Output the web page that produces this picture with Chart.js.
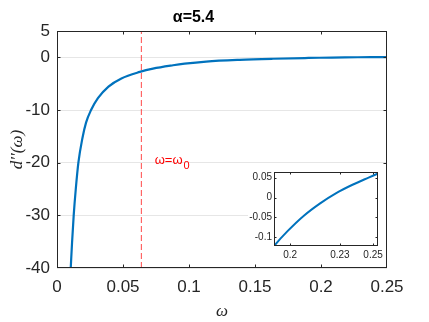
<!DOCTYPE html>
<html><head><meta charset="utf-8">
<script src="https://cdn.jsdelivr.net/npm/chart.js@4/dist/chart.umd.min.js"></script>
<style>
html,body{margin:0;padding:0;background:#fff;}
#wrap{position:relative;width:429px;height:322px;overflow:hidden;}
#main{position:absolute;left:0;top:0;}
#inset{position:absolute;left:248px;top:164px;background:#fff;}
</style></head><body>
<div id="wrap"><canvas id="main" width="429" height="322"></canvas><canvas id="inset" width="138" height="100"></canvas></div>
<script>
// ---- data ----
const omega = [0.0104, 0.0114, 0.01265, 0.0142, 0.0162, 0.0192, 0.0220, 0.0258, 0.0310, 0.0390, 0.0488, 0.0627, 0.0727, 0.0879, 0.0967, 0.113, 0.1384, 0.1636, 0.1905, 0.1986, 0.2083, 0.2181, 0.2278, 0.2376, 0.2473, 0.2527];
const dpp   = [-40, -35.2, -30, -25.1, -20, -15.4, -12.4, -10.0, -7.75, -5.55, -4.0, -2.77, -2.14, -1.5, -1.2, -0.8, -0.47, -0.27, -0.1207, -0.0837, -0.0455, -0.0145, 0.0112, 0.032, 0.050, 0.0597];
const omega0 = 0.0639;
const xTicks = [0, 0.05, 0.1, 0.15, 0.2, 0.25];
const xTickLabels = ['0', '0.05', '0.1', '0.15', '0.2', '0.25'];
const yTicks = [-40, -30, -20, -10, 0, 5];
const yTickLabels = ['-40', '-30', '-20', '-10', '0', '5'];
const insetXTicks = [0.2, 0.23, 0.25];
const insetXTickLabels = ['0.2', '0.23', '0.25'];
const insetYTicks = [-0.1, -0.05, 0, 0.05];
const insetYTickLabels = ['-0.1', '-0.05', '0', '0.05'];
const insetXRange = [0.1903, 0.2532];
const insetYRange = [-0.1215, 0.0640];
const titleText = 'α=5.4';
const xTitle = 'ω';
const yTitle = 'd′′(ω)';
const annotMain = 'ω=ω';
const annotSub = '0';
const annotPos = [0.074, -20.2];

const curve = omega.map((w, i) => ({x: w, y: dpp[i]}));
const axisColor = '#262626';
const blue = '#0072BD';
const sans = '"Liberation Sans", Arial, sans-serif';
const serif = '"Liberation Serif", "DejaVu Serif", serif';

function boxTicksPlugin(len) {
  return {
    id: 'boxTicks',
    afterDatasetsDraw(chart) {
      const {ctx, chartArea: a, scales: {x, y}} = chart;
      ctx.save();
      ctx.strokeStyle = axisColor;
      ctx.lineWidth = 1;
      const L = Math.round(a.left) + 0.5, R = Math.round(a.right) - 0.5;
      const T = Math.round(a.top) + 0.5, B = Math.round(a.bottom) - 0.5;
      ctx.beginPath();
      x.ticks.forEach(t => {
        const px = Math.round(x.getPixelForValue(t.value)) + 0.5;
        if (px > L + 1 && px < R - 1) {
          ctx.moveTo(px, B); ctx.lineTo(px, B - len);
          ctx.moveTo(px, T); ctx.lineTo(px, T + len);
        }
      });
      y.ticks.forEach(t => {
        const py = Math.round(y.getPixelForValue(t.value)) + 0.5;
        if (py > T + 1 && py < B - 1) {
          ctx.moveTo(L, py); ctx.lineTo(L + len, py);
          ctx.moveTo(R, py); ctx.lineTo(R - len, py);
        }
      });
      ctx.stroke();
      ctx.strokeRect(L, T, R - L, B - T);
      ctx.restore();
    }
  };
}

const annotPlugin = {
  id: 'annot',
  afterDatasetsDraw(chart) {
    const {ctx, scales: {x, y}} = chart;
    const px = x.getPixelForValue(annotPos[0]);
    const py = y.getPixelForValue(annotPos[1]);
    ctx.save();
    ctx.fillStyle = '#FF0000';
    ctx.textBaseline = 'alphabetic';
    ctx.textAlign = 'left';
    ctx.font = '13px ' + sans;
    ctx.fillText(annotMain, px, py);
    const w = ctx.measureText(annotMain).width;
    ctx.font = '11px ' + sans;
    ctx.fillText(annotSub, px + w + 1, py + 5);
    ctx.restore();
  }
};

const noGrid = {display: false, drawTicks: false, tickLength: 0};

new Chart(document.getElementById('main'), {
  type: 'scatter',
  data: {
    datasets: [
      {data: curve, showLine: true, borderColor: blue, borderWidth: 2.2, pointRadius: 0,
       cubicInterpolationMode: 'monotone', order: 1},
      {data: [{x: omega0, y: yTicks[0]}, {x: omega0, y: yTicks[yTicks.length - 1]}], showLine: true,
       borderColor: '#FF4A4A', borderWidth: 1, borderDash: [6, 3], pointRadius: 0, order: 2}
    ]
  },
  options: {
    responsive: false, animation: false,
    layout: {padding: {left: 0, right: 42, top: 0, bottom: 0}},
    plugins: {
      legend: {display: false}, tooltip: {enabled: false},
      title: {display: true, text: titleText, color: '#000',
        font: {size: 16, weight: 'bold', family: sans, lineHeight: 1.2},
        padding: {top: 8, bottom: 3.8}}
    },
    scales: {
      x: {
        type: 'linear', min: xTicks[0], max: xTicks[xTicks.length - 1],
        afterBuildTicks: s => { s.ticks = xTicks.map(v => ({value: v})); },
        afterFit: s => { s.height = 54; },
        grid: noGrid, border: {display: false},
        ticks: {autoSkip: false, maxRotation: 0, padding: 9, color: axisColor,
          font: {size: 17, family: sans},
          callback: (v, i) => xTickLabels[i]},
        title: {display: true, text: xTitle, color: axisColor,
          font: {size: 17, style: 'italic', family: serif},
          padding: {top: 0, bottom: 0}}
      },
      y: {
        type: 'linear', min: yTicks[0], max: yTicks[yTicks.length - 1],
        afterBuildTicks: s => { s.ticks = yTicks.map(v => ({value: v})); },
        afterFit: s => { s.width = 57; },
        grid: {color: '#e6e6e6', drawTicks: false, tickLength: 0, lineWidth: 1}, border: {display: false},
        ticks: {autoSkip: false, padding: 7, color: axisColor,
          font: {size: 17, family: sans},
          callback: (v, i) => yTickLabels[i]},
        title: {display: true, text: yTitle, color: axisColor,
          font: {size: 17, style: 'italic', family: serif},
          padding: {top: 7, bottom: 0}}
      }
    }
  },
  plugins: [boxTicksPlugin(3), annotPlugin]
});

new Chart(document.getElementById('inset'), {
  type: 'scatter',
  data: {
    datasets: [
      {data: curve, showLine: true, borderColor: blue, borderWidth: 2, pointRadius: 0,
       cubicInterpolationMode: 'monotone'}
    ]
  },
  options: {
    responsive: false, animation: false,
    layout: {padding: {left: 0, right: 4, top: 1, bottom: 0}},
    plugins: {legend: {display: false}, tooltip: {enabled: false}},
    scales: {
      x: {
        type: 'linear', min: insetXRange[0], max: insetXRange[1],
        afterBuildTicks: s => { s.ticks = insetXTicks.map(v => ({value: v})); },
        afterFit: s => { s.height = 18; },
        grid: noGrid, border: {display: false},
        ticks: {autoSkip: false, maxRotation: 0, padding: 3, color: axisColor,
          font: {size: 10, family: sans},
          callback: (v, i) => insetXTickLabels[i]}
      },
      y: {
        type: 'linear', min: insetYRange[0], max: insetYRange[1],
        afterBuildTicks: s => { s.ticks = insetYTicks.map(v => ({value: v})); },
        afterFit: s => { s.width = 26; },
        grid: noGrid, border: {display: false},
        ticks: {autoSkip: false, padding: 2, color: axisColor,
          font: {size: 10, family: sans},
          callback: (v, i) => insetYTickLabels[i]}
      }
    }
  },
  plugins: [boxTicksPlugin(2)]
});
</script>
</body></html>
